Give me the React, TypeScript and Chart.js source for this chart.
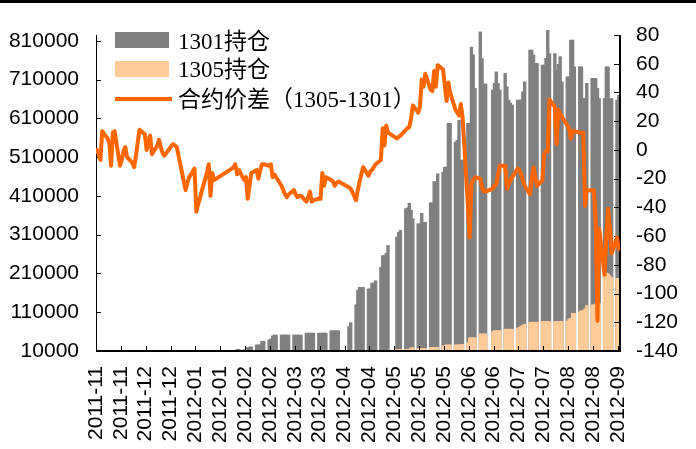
import React, { useEffect, useRef } from 'react';
import { Chart, registerables } from 'chart.js';

Chart.register(...registerables);

// ---------------- data ----------------
const FIRST_DAY = '2011-11-15';
const LAST_DAY = '2012-09-04';
const AXIS_MAX_DAYS = 295.2;
const TICK_STEP_DAYS = 14;
const TICK_COUNT = 22;
const HOLIDAYS = [
  '2012-01-02', '2012-01-03',
  '2012-01-23', '2012-01-24', '2012-01-25', '2012-01-26', '2012-01-27',
  '2012-04-02', '2012-04-03', '2012-04-04',
  '2012-04-30', '2012-05-01',
  '2012-06-22',
];

const SERIES_NAMES = ['1301持仓', '1305持仓', '合约价差（1305-1301）'];

// spread 1305-1301, one value per trading day from FIRST_DAY
const SPREAD = [
  0, -3, -7, 13,
  8, 5, -11, 12, 13,
  -11, -7, -1, 2, -5,
  -9, -12, -4, 5, 14,
  11, 0, 5, 10, -3,
  3, 7, 2, -2, -4,
  1, 3, 4, 3, 2,
  -28, -23, -19,
  -13, -43, -38, -34, -29,
  -16, -10, -32, -16, -21,
  -13, -12, -10, -17, -14,
  -21, -19, -34, -25, -16,
  -14, -20, -14, -10, -10,
  -11, -10, -19, -17, -19,
  -25, -28, -31, -33, -31,
  -28, -31, -33, -32, -32,
  -36, -33, -29, -36, -35,
  -34, -34, -16, -25, -19,
  -21, -22, -25, -23, -22,
  -26, -27,
  -35, -28, -22, -17, -12,
  -18, -15, -14, -12, -10,
  -7, 15, 3, 17, 12,
  8, 9, 10,
  14, 15, 16, 22, 31,
  26, 30, 49, 44, 53,
  42, 41, 55, 44, 59,
  56, 45, 34, 47, 40,
  28, 26, 24, 32, 23,
  -38, -61, -24, -21, -19,
  -20, -26, -29, -29,
  -27, -25, -24, -17, -11,
  -11, -27, -24, -21, -19,
  -13, -14, -17, -21, -25,
  -31, -20, -12, -19, -25,
  -21, -3, -1, -1, 35,
  30, 4, 28, 25, 23,
  17, 15, 8, 13, 13,
  12, 12, 12, -39, -28,
  -28, -28, -50, -119, -55,
  -87, -60, -41, -55, -72,
  -61, -69,
];

// open interest 1301, one value per trading day from OI_1301_FIRST_DAY
const OI_1301_FIRST_DAY = '2012-02-02';
const OI_1301 = [
  15000, 15000,
  14000, 14000, 20000, 21000, 21000,
  26500, 26500, 26500, 36000, 36000,
  39500, 42000, 50000, 52000, 52000,
  52000, 52000, 52000, 52000, 52000,
  52000, 52000, 52000, 52000, 52000,
  57000, 57000, 57000, 57000, 57000,
  57000, 57000, 57000, 57000, 57000,
  63000, 63000, 63000, 63000, 63000,
  74000, 84000,
  130000, 168000, 175000, 175000, 175000,
  171000, 171000, 186000, 186000, 192000,
  227000, 257000, 257000, 263000, 283000,
  305000, 317000, 322000,
  378000, 380000, 392000, 374000, 352000,
  339000, 339000, 366000, 343000, 343000,
  393000, 393000, 448000, 445000, 468000,
  472000, 485000, 485000, 598000, 598000,
  550000, 554000, 606000, 503000, 503000,
  598000, 598000, 795000, 775000, 688000,
  834000, 765000, 697000, 700000,
  684000, 701000, 731000, 701000, 684000,
  727000, 692000, 658000, 650000, 645000,
  658000, 658000, 658000, 679000, 705000,
  787000, 787000, 774000, 753000, 753000,
  748000, 748000, 766000, 838000, 778000,
  778000, 735000, 750000, 770000, 705000,
  718000, 718000, 813000, 813000, 744000,
  744000, 744000, 662000, 662000, 701000,
  714000, 714000, 714000, 688000, 662000,
  662000, 744000, 744000, 662000, 662000,
  658000, 670000,
];

// open interest 1305, one value per trading day from OI_1305_FIRST_DAY
const OI_1305_FIRST_DAY = '2012-04-27';
const OI_1305 = [
  13000,
  15000, 15000, 15000,
  15000, 15000, 16000, 19000, 19500,
  17000, 17000, 17000, 17000, 17000,
  20000, 20000, 20000, 20000, 20000,
  24000, 25000, 26500, 26500, 26500,
  26500, 26500, 26500, 27000, 28000,
  32500, 45000, 45000, 45000, 45000,
  55000, 55000, 55000, 55000,
  60000, 63500, 63500, 63500, 63500,
  67000, 67000, 67000, 67000, 67000,
  70000, 72000, 75000, 78000, 80000,
  85000, 85000, 85000, 85000, 85000,
  87000, 87000, 87000, 87000, 87000,
  87000, 87000, 87000, 87000, 87000,
  88000, 94000, 94000, 108000, 108000,
  112000, 115000, 115000, 120000, 128000,
  130000, 130000, 132000, 132000, 133000,
  210000, 212000, 210000, 205000, 200000,
  198000, 197000,
];

const LEFT_TICKS = [10000, 110000, 210000, 310000, 410000, 510000, 610000, 710000, 810000];
const LEFT_MIN = 10000;
const LEFT_MAX = 825000;
const RIGHT_TICKS = [-140, -120, -100, -80, -60, -40, -20, 0, 20, 40, 60, 80];

// ---------------- helpers ----------------
const DAY_MS = 86400000;
const toUTC = (s: string) => Date.parse(s + 'T00:00:00Z');
const fmt = (t: number) => new Date(t).toISOString().slice(0, 10);
const T0 = toUTC(FIRST_DAY);

const tradingDays: string[] = [];
for (let t = T0; t <= toUTC(LAST_DAY); t += DAY_MS) {
  const wd = new Date(t).getUTCDay();
  const s = fmt(t);
  if (wd !== 0 && wd !== 6 && !HOLIDAYS.includes(s)) tradingDays.push(s);
}
const dayPos = (s: string) => (toUTC(s) - T0) / DAY_MS + 0.5;

function seriesFrom(firstDay: string, values: number[]) {
  const k0 = tradingDays.indexOf(firstDay);
  const pts: { x: number; y: number }[] = [];
  values.forEach((v, k) => {
    const d = tradingDays[k0 + k];
    if (d) pts.push({ x: dayPos(d), y: v });
  });
  return pts;
}

const FONT = "'Liberation Sans', Arial, sans-serif";
const LEGEND_FONT = "'Liberation Serif', 'Noto Sans CJK SC', serif";
const GREY = '#808080';
const PEACH = '#FFCC99';
const ORANGE = '#FF6600';

const innerTicks = {
  id: 'innerTicks',
  afterDatasetDraw(chart: any, args: any) {
    if (args.index !== 1) return;
    const { ctx, chartArea: a, scales } = chart;
    ctx.save();
    ctx.strokeStyle = '#000';
    ctx.lineWidth = 1;
    ctx.beginPath();
    for (const t of scales.x.ticks) {
      const px = Math.round(scales.x.getPixelForValue(t.value)) + 0.5;
      ctx.moveTo(px, a.bottom);
      ctx.lineTo(px, a.bottom - 5);
    }
    for (const t of scales.y.ticks) {
      const py = Math.round(scales.y.getPixelForValue(t.value)) + 0.5;
      ctx.moveTo(a.left, py);
      ctx.lineTo(a.left + 5, py);
    }
    for (const t of scales.y1.ticks) {
      const py = Math.round(scales.y1.getPixelForValue(t.value)) + 0.5;
      ctx.moveTo(a.right, py);
      ctx.lineTo(a.right - 6, py);
    }
    const L = Math.round(a.left) + 0.5;
    const R = Math.round(a.right) - 0.5;
    const B = Math.round(a.bottom) - 0.5;
    ctx.moveTo(L, a.top);
    ctx.lineTo(L, B);
    ctx.lineTo(R, B);
    ctx.moveTo(R, a.top);
    ctx.lineTo(R, B);
    ctx.stroke();
    ctx.restore();
  },
};

export default function App() {
  const ref = useRef<HTMLCanvasElement>(null);

  useEffect(() => {
    document.body.style.margin = '0';
    const canvas = ref.current;
    if (!canvas) return;
    const spreadPts = tradingDays.map((d, k) => ({ x: dayPos(d), y: SPREAD[k] ?? null }));
    const chart = new Chart(canvas, {
      type: 'bar',
      data: {
        datasets: [
          {
            type: 'bar',
            label: SERIES_NAMES[0],
            data: seriesFrom(OI_1301_FIRST_DAY, OI_1301) as any,
            backgroundColor: GREY,
            borderWidth: 0,
            yAxisID: 'y',
            grouped: false,
            order: 2,
            barPercentage: 1.9,
            categoryPercentage: 1,
            clip: { left: 0, top: 5, right: 0, bottom: 0 },
          } as any,
          {
            type: 'bar',
            label: SERIES_NAMES[1],
            data: seriesFrom(OI_1305_FIRST_DAY, OI_1305) as any,
            backgroundColor: PEACH,
            borderWidth: 0,
            yAxisID: 'y',
            grouped: false,
            order: 1,
            barPercentage: 1.9,
            categoryPercentage: 1,
          } as any,
          {
            type: 'line',
            label: SERIES_NAMES[2],
            data: spreadPts as any,
            borderColor: ORANGE,
            backgroundColor: ORANGE,
            borderWidth: 4,
            pointRadius: 0,
            tension: 0,
            spanGaps: true,
            borderJoinStyle: 'round',
            borderCapStyle: 'round',
            yAxisID: 'y1',
            order: 0,
          } as any,
        ],
      },
      options: {
        responsive: false,
        devicePixelRatio: 1,
        animation: false,
        events: [],
        layout: { padding: { left: 9, right: 18, top: 35, bottom: 5 } },
        plugins: { legend: { display: false }, tooltip: { enabled: false } },
        scales: {
          x: {
            type: 'linear',
            min: 0,
            max: AXIS_MAX_DAYS,
            offset: false,
            grid: { display: false, drawTicks: false },
            border: { display: true, color: '#000', width: 1 },
            afterBuildTicks: (scale: any) => {
              scale.ticks = Array.from({ length: TICK_COUNT }, (_, k) => ({ value: k * TICK_STEP_DAYS }));
            },
            afterFit: (scale: any) => {
              scale.height = 93;
            },
            ticks: {
              autoSkip: false,
              maxRotation: 90,
              minRotation: 90,
              padding: 15,
              color: '#000',
              font: { family: FONT, size: 21 },
              callback: (value: any) => fmt(T0 + Number(value) * DAY_MS).slice(0, 7),
            },
          },
          y: {
            type: 'linear',
            position: 'left',
            min: LEFT_MIN,
            max: LEFT_MAX,
            grid: { display: false, drawTicks: false },
            border: { display: true, color: '#000', width: 1 },
            afterBuildTicks: (scale: any) => {
              scale.ticks = LEFT_TICKS.map((v) => ({ value: v }));
            },
            afterFit: (scale: any) => {
              scale.width = 87;
            },
            ticks: {
              autoSkip: false,
              padding: 17,
              color: '#000',
              font: { family: FONT, size: 21 },
              callback: (v: any) => String(v),
            },
          },
          y1: {
            type: 'linear',
            position: 'right',
            min: RIGHT_TICKS[0],
            max: RIGHT_TICKS[RIGHT_TICKS.length - 1],
            grid: { display: false, drawTicks: false },
            border: { display: true, color: '#000', width: 1 },
            afterBuildTicks: (scale: any) => {
              scale.ticks = RIGHT_TICKS.map((v) => ({ value: v }));
            },
            afterFit: (scale: any) => {
              scale.width = 58;
            },
            ticks: {
              autoSkip: false,
              padding: 16,
              color: '#000',
              font: { family: FONT, size: 21 },
              callback: (v: any) => String(v),
            },
          },
        },
      } as any,
      plugins: [innerTicks as any],
    });
    return () => chart.destroy();
  }, []);

  const textStyle = (top: number): React.CSSProperties => ({
    position: 'absolute',
    left: 178,
    top,
    height: 28,
    lineHeight: '28px',
    fontFamily: LEGEND_FONT,
    fontSize: 23,
    color: '#000',
    whiteSpace: 'nowrap',
  });

  return (
    <div style={{ position: 'absolute', left: 0, top: 0, width: 696, height: 449, background: '#fff', overflow: 'hidden' }}>
      <canvas ref={ref} width={696} height={449} style={{ position: 'absolute', left: 0, top: 0, width: 696, height: 449 }} />
      <div style={{ position: 'absolute', left: 0, top: 0, width: 696, height: 3, background: '#000' }} />
      <div style={{ position: 'absolute', left: 115, top: 32, width: 54, height: 16, background: GREY }} />
      <div style={textStyle(27.5)}>{SERIES_NAMES[0]}</div>
      <div style={{ position: 'absolute', left: 115, top: 60.5, width: 54, height: 16, background: PEACH }} />
      <div style={textStyle(56)}>{SERIES_NAMES[1]}</div>
      <div style={{ position: 'absolute', left: 115, top: 97, width: 57, height: 4, background: ORANGE }} />
      <div style={textStyle(86)}>{SERIES_NAMES[2]}</div>
    </div>
  );
}
